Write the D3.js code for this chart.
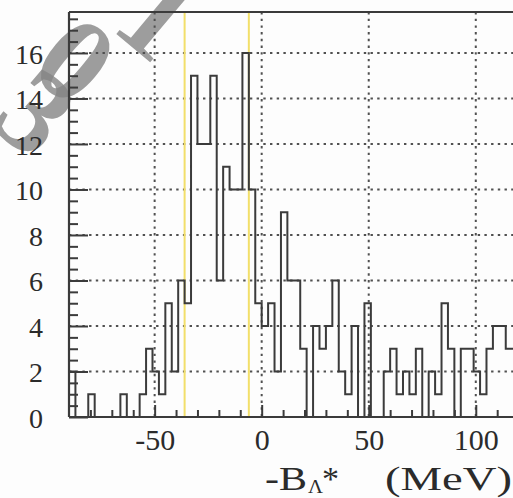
<!DOCTYPE html>
<html><head><meta charset="utf-8">
<script src="https://cdn.jsdelivr.net/npm/d3@7"></script>
<style>html,body{margin:0;padding:0;background:#fff;overflow:hidden}</style>
</head><body><svg id="c" width="513" height="498"></svg>
<script>
// ---- data ----
const binStart = -90;      // MeV, left edge of first bin
const binWidth = 3;        // MeV
const counts = [
  2,0,0,1,0,0,0,0,1,0,
  0,1,3,2,1,5,2,6,5,15,
  12,12,15,6,11,10,10,16,10,5,
  4,5,2,9,6,6,3,0,4,3,
  4,6,2,1,4,0,5,0,0,2,
  3,1,2,1,3,0,2,1,5,3,
  0,3,3,2,1,3,4,4,3,3
];
const xMajorTicks = [-50, 0, 50, 100];
const xTickLabels = ["-50", "0", "50", "100"];
const xMinorTicks = [-80,-70,-60,-40,-30,-20,-10,10,20,30,40,60,70,80,90,110];
const yMajorTicks = [0, 2, 4, 6, 8, 10, 12, 14, 16];
const yTickLabels = ["0", "2", "4", "6", "8", "10", "12", "14", "16"];
const yMinorStep = 0.5;
const cutLines = [-36, -6];
const xDomain = [-90, 120];
const yDomain = [0, 17.8];

// ---- drawing ----
const svg = d3.select("#c");
svg.append("rect").attr("width", 513).attr("height", 498).attr("fill", "#fdfdfd");

const x = d3.scaleLinear().domain(xDomain).range([69, 518.6]);
const y = d3.scaleLinear().domain(yDomain).range([417, 12]);
const ink = "#3b3b3b";

// background watermark (scan artifact)
const wm = svg.append("g").attr("fill", "#858585").attr("fill-opacity", 0.8)
  .style("font-family", "'Liberation Serif', 'DejaVu Serif', serif")
  .style("font-size", "120px").style("font-weight", "bold");
[["3", 36, 112], ["0", 76, 60], ["1", 158, 16]].forEach(([ch, cx, cy]) => {
  wm.append("text").attr("text-anchor", "middle").attr("dominant-baseline", "central")
    .attr("transform", `translate(${cx},${cy}) rotate(40)`).text(ch);
});

// dotted grid
const grid = svg.append("g").attr("stroke", "#505050").attr("stroke-width", 2)
  .attr("stroke-dasharray", "2.4 4.3").attr("fill", "none");
yMajorTicks.filter(v => v > 0).forEach(v => {
  grid.append("line").attr("x1", x(xDomain[0])).attr("x2", x(xDomain[1]))
    .attr("y1", y(v)).attr("y2", y(v));
});
xMajorTicks.forEach(v => {
  grid.append("line").attr("x1", x(v)).attr("x2", x(v))
    .attr("y1", y(yDomain[1])).attr("y2", y(0));
});

// yellow cut lines
cutLines.forEach(v => {
  svg.append("line").attr("x1", x(v)).attr("x2", x(v))
    .attr("y1", y(yDomain[1])).attr("y2", y(0))
    .attr("stroke", "#f2df6a").attr("stroke-width", 2);
});

// histogram
const pts = counts.map((c, i) => [binStart + i * binWidth, c]);
pts.push([binStart + counts.length * binWidth, counts[counts.length - 1]]);
const line = d3.line().x(d => x(d[0])).y(d => y(d[1])).curve(d3.curveStepAfter);
svg.append("path").attr("d", line(pts)).attr("fill", "none")
  .attr("stroke", ink).attr("stroke-width", 2);

// frame
svg.append("line").attr("x1", x(xDomain[0])).attr("x2", x(xDomain[0]))
  .attr("y1", y(yDomain[1])).attr("y2", y(0)).attr("stroke", ink).attr("stroke-width", 2.2);
svg.append("line").attr("x1", x(xDomain[0])).attr("x2", x(xDomain[1]))
  .attr("y1", y(0)).attr("y2", y(0)).attr("stroke", ink).attr("stroke-width", 2.2);
svg.append("line").attr("x1", x(xDomain[0])).attr("x2", x(xDomain[1]))
  .attr("y1", y(yDomain[1])).attr("y2", y(yDomain[1])).attr("stroke", ink).attr("stroke-width", 2);

// axes ticks
const yMinor = d3.range(0, yDomain[1], yMinorStep).filter(v => !yMajorTicks.includes(v));
const styleAxis = g => { g.select(".domain").remove(); g.selectAll("line").attr("stroke", ink).attr("stroke-width", 2); };

svg.append("g").attr("transform", `translate(${x(xDomain[0])},0)`)
  .call(d3.axisLeft(y).tickValues(yMinor).tickSize(-9).tickFormat(""))
  .call(styleAxis);
const yAx = svg.append("g").attr("transform", `translate(${x(xDomain[0])},0)`)
  .call(d3.axisLeft(y).tickValues(yMajorTicks).tickSize(-19).tickPadding(26)
    .tickFormat((d, i) => yTickLabels[i]))
  .call(styleAxis);
yAx.selectAll("text").attr("fill", "#2b2b2b").attr("dy", "0.36em")
  .style("font-family", "'Liberation Serif', serif").style("font-size", "28px");

svg.append("g").attr("transform", `translate(0,${y(0)})`)
  .call(d3.axisBottom(x).tickValues(xMinorTicks).tickSize(-7).tickFormat(""))
  .call(styleAxis);
const xAx = svg.append("g").attr("transform", `translate(0,${y(0)})`)
  .call(d3.axisBottom(x).tickValues(xMajorTicks).tickSize(-12).tickPadding(0)
    .tickFormat((d, i) => xTickLabels[i]))
  .call(styleAxis);
xAx.selectAll("text").attr("fill", "#2b2b2b").attr("y", 33).attr("dy", 0)
  .style("font-family", "'Liberation Serif', serif").style("font-size", "30px");

// axis title
const tf = "'Liberation Serif', serif";
svg.append("text").attr("x", 265).attr("y", 490).attr("textLength", 42).attr("lengthAdjust", "spacingAndGlyphs")
  .style("font-family", tf).style("font-size", "34px").attr("fill", "#2b2b2b").text("-B");
svg.append("text").attr("x", 308).attr("y", 493).attr("textLength", 15).attr("lengthAdjust", "spacingAndGlyphs")
  .style("font-family", tf).style("font-size", "18px").attr("fill", "#2b2b2b").text("Λ");
svg.append("text").attr("x", 322).attr("y", 490)
  .style("font-family", tf).style("font-size", "34px").attr("fill", "#2b2b2b").text("*");
svg.append("text").attr("x", 385).attr("y", 490).attr("textLength", 127).attr("lengthAdjust", "spacingAndGlyphs")
  .style("font-family", tf).style("font-size", "34px").attr("fill", "#2b2b2b").text("(MeV)");
</script>
</body></html>
